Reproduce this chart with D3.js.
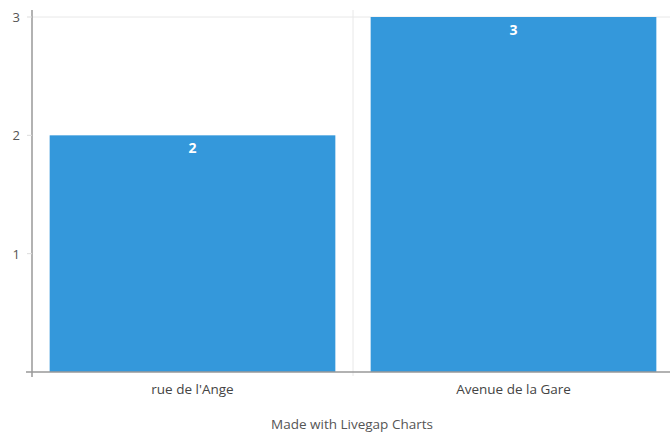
<!DOCTYPE html>
<html>
<head>
<meta charset="utf-8">
<script src="https://cdn.jsdelivr.net/npm/d3@7"></script>
<style>
  body { margin: 0; background: #fff; }
  text { font-family: "Open Sans", sans-serif; }
</style>
</head>
<body>
<div id="chart"></div>
<script>
var categories = ["rue de l'Ange", "Avenue de la Gare"]
var values = [2, 3]
var yTicks = [1, 2, 3]

var width = 670, height = 434
var plotLeft = 32, plotRight = 674, plotTop = 17, plotBottom = 372

var svg = d3.select("#chart").append("svg")
  .attr("width", width).attr("height", height)

var x = d3.scaleBand().domain(categories).range([plotLeft, plotRight]).paddingInner(0.11).paddingOuter(0.055)
var y = d3.scaleLinear().domain([0, 3]).range([plotBottom, plotTop])

// grid
svg.append("line")
  .attr("x1", plotLeft).attr("x2", width).attr("y1", y(3)).attr("y2", y(3))
  .attr("stroke", "#e8e8e8")
svg.append("line")
  .attr("x1", plotLeft + x.step()).attr("x2", plotLeft + x.step())
  .attr("y1", 10).attr("y2", plotBottom + 4)
  .attr("stroke", "#e8e8e8")

// bars
svg.append("g").selectAll("rect")
  .data(values)
  .enter().append("rect")
    .attr("x", function (d, i) { return x(categories[i]) })
    .attr("y", function (d) { return y(d) })
    .attr("width", x.bandwidth())
    .attr("height", function (d) { return plotBottom - y(d) })
    .attr("fill", "#3498db")

svg.append("g").selectAll("text")
  .data(values)
  .enter().append("text")
    .attr("x", function (d, i) { return x(categories[i]) + x.bandwidth() / 2 })
    .attr("y", function (d) { return y(d) + 18 })
    .attr("text-anchor", "middle")
    .attr("font-size", 14)
    .attr("font-weight", "bold")
    .attr("fill", "#fff")
    .text(function (d) { return d })

// y axis
svg.append("line")
  .attr("x1", plotLeft).attr("x2", plotLeft).attr("y1", 10).attr("y2", plotBottom + 5)
  .attr("stroke", "#999").attr("stroke-width", 1.5)
var yg = svg.append("g").selectAll("g").data(yTicks).enter().append("g")
yg.append("line")
  .attr("x1", plotLeft - 5).attr("x2", plotLeft).attr("y1", function (d) { return y(d) }).attr("y2", function (d) { return y(d) })
  .attr("stroke", "#ddd")
yg.append("text")
  .attr("x", 20).attr("y", function (d) { return y(d) + 5 })
  .attr("text-anchor", "end").attr("font-size", 13).attr("fill", "#555")
  .text(function (d) { return d })

// x axis
svg.append("line")
  .attr("x1", plotLeft - 6).attr("x2", width).attr("y1", plotBottom).attr("y2", plotBottom)
  .attr("stroke", "#999").attr("stroke-width", 1.5)
svg.append("g").selectAll("text")
  .data(categories)
  .enter().append("text")
    .attr("x", function (d) { return x(d) + x.bandwidth() / 2 })
    .attr("y", 394)
    .attr("text-anchor", "middle").attr("font-size", 13.5).attr("fill", "#444")
    .text(function (d) { return d })

svg.append("text")
  .attr("x", 352).attr("y", 429)
  .attr("text-anchor", "middle").attr("font-size", 13.5).attr("fill", "#555")
  .text("Made with Livegap Charts")
</script>
</body>
</html>
